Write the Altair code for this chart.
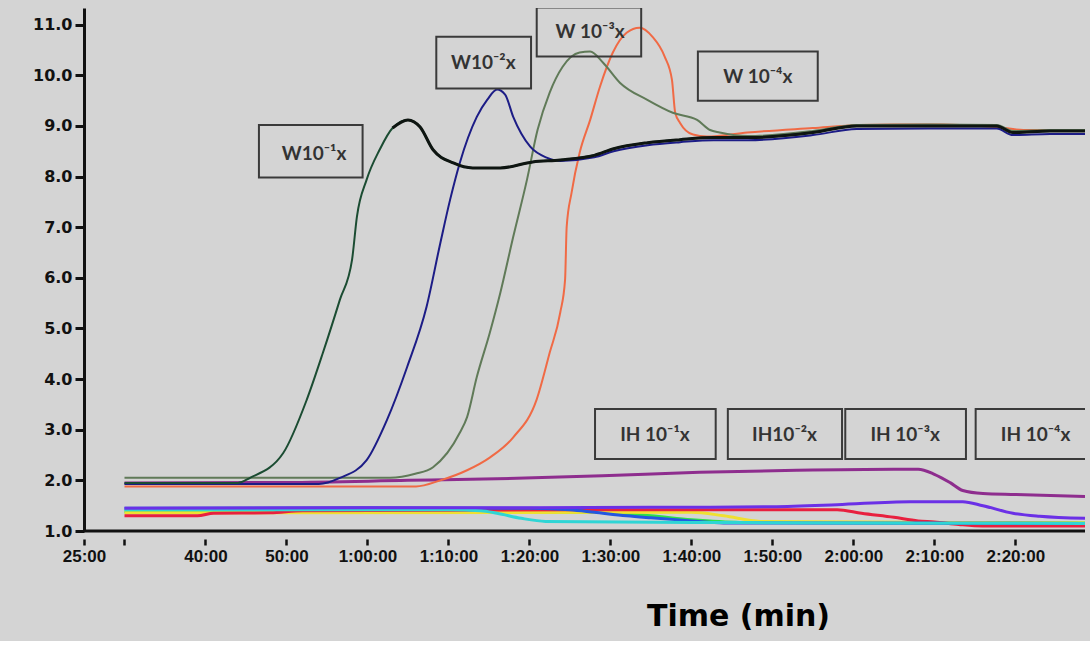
import altair as alt
import pandas as pd

# ---------------- data (time in minutes, signal value) ----------------
w1_t = [30, 44, 45.5, 49.6, 52.5, 54.5, 56.6, 58.1, 58.7, 59.9, 61.5, 63.1, 65.0, 66.5, 68.1, 70.6, 73.0, 76.4,
        80.4, 83.8, 88, 90.4, 94.6, 98.6, 102.7, 107, 115, 120.4, 129.4, 137.7, 139.7, 144.3, 148.6]
w1_v = [1.95, 1.95, 2.05, 2.54, 3.59, 4.52, 5.57, 6.36, 7.21, 7.94, 8.53, 8.96, 9.12, 8.98, 8.53, 8.27, 8.17, 8.17,
        8.29, 8.33, 8.42, 8.55, 8.67, 8.73, 8.77, 8.77, 8.87, 9.0, 9.0, 9.0, 8.87, 8.9, 8.9]

w2_t = [30, 54, 56.6, 59.9, 62.4, 64.9, 67.3, 69.0, 70.2, 71.4, 73.5, 74.8, 76.0, 77.0, 78.0, 80.1, 82.2, 83.8,
        88, 90.4, 94.6, 98.6, 102.7, 107, 115, 120.4, 129.4, 137.7, 139.7, 144.3, 148.6]
w2_v = [1.93, 1.93, 2.05, 2.40, 3.19, 4.24, 5.43, 6.69, 7.54, 8.27, 9.18, 9.52, 9.72, 9.62, 9.18, 8.59, 8.37, 8.31,
        8.38, 8.5, 8.62, 8.68, 8.72, 8.72, 8.82, 8.94, 8.95, 8.95, 8.82, 8.84, 8.84]

w3_t = [30, 62.8, 65.9, 68.1, 71.4, 72.3, 73.5, 75.1, 76.4, 78.0, 79.7, 81.0, 82.5, 84.1, 86.2, 87.5, 89.1, 91.2,
        94.5, 97.7, 100.7, 102.3, 103.5, 107, 115, 120.4, 129.4, 137.7, 139.7, 144.3, 148.6]
w3_v = [2.05, 2.05, 2.13, 2.26, 2.94, 3.25, 4.04, 4.91, 5.70, 6.81, 7.94, 8.92, 9.66, 10.17, 10.45, 10.47, 10.25, 9.85,
        9.52, 9.26, 9.12, 8.92, 8.87, 8.8, 8.9, 9.02, 9.03, 9.02, 8.9, 8.92, 8.92]

w4_t = [30, 66, 69.0, 72.3, 75.1, 78.0, 80.9, 82.5, 83.8, 84.4, 84.6, 85.2, 86.2, 87.5, 88.7, 90.3, 92.0, 93.6,
        95.2, 96.7, 97.6, 98.0, 98.6, 100.2, 101.9, 106.9, 115, 120.8, 125, 131, 137.7, 141, 148.6]
w4_v = [1.88, 1.88, 2.0, 2.2, 2.45, 2.85, 3.6, 4.52, 5.31, 5.96, 7.01, 7.68, 8.47, 9.12, 9.77, 10.45, 10.84, 10.94,
        10.76, 10.37, 9.91, 9.26, 9.06, 8.83, 8.79, 8.87, 8.96, 9.02, 9.03, 9.03, 8.98, 8.92, 8.92]

ih_purple_t = [30, 50, 65, 76, 89, 101, 113, 125, 128, 130, 132, 133.5, 136, 140, 148.6]
ih_purple_v = [1.95, 1.96, 2.0, 2.03, 2.09, 2.16, 2.2, 2.22, 2.22, 2.12, 1.95, 1.8, 1.74, 1.72, 1.68]

ih_violet_t = [30, 60, 80, 95, 100, 110, 118, 127, 133.5, 136, 139.7, 143, 148.6]
ih_violet_v = [1.45, 1.46, 1.46, 1.47, 1.47, 1.48, 1.52, 1.58, 1.58, 1.5, 1.35, 1.29, 1.25]

ih_green_t = [30, 88, 95, 100, 106, 148.6]
ih_green_v = [1.38, 1.37, 1.3, 1.22, 1.17, 1.16]

ih_yellow_t = [30, 100, 104, 108.5, 148.6]
ih_yellow_v = [1.36, 1.37, 1.3, 1.19, 1.16]

ih_red_t = [30, 39, 41, 48, 52, 86, 118, 121, 125, 128, 130, 133, 136, 148.6]
ih_red_v = [1.3, 1.3, 1.35, 1.36, 1.40, 1.42, 1.42, 1.35, 1.27, 1.2, 1.18, 1.13, 1.1, 1.1]

ih_blue_t = [30, 60, 80, 85, 88, 92, 95, 100, 104, 148.6]
ih_blue_v = [1.45, 1.46, 1.45, 1.42, 1.37, 1.3, 1.26, 1.2, 1.16, 1.15]

ih_cyan_t = [30, 70, 74, 76, 79, 82, 100, 120, 148.6]
ih_cyan_v = [1.42, 1.42, 1.40, 1.35, 1.25, 1.19, 1.17, 1.16, 1.15]

# annotation boxes (data units)
box_labels = ["W10⁻¹x", "W10⁻²x", "W 10⁻³x", "W 10⁻⁴x", "IH 10⁻¹x", "IH10⁻²x", "IH 10⁻³x", "IH 10⁻⁴x"]
box_x1 = [46.6, 68.5, 80.9, 100.8, 88.1, 104.5, 119.0, 135.1]
box_x2 = [59.4, 80.2, 93.8, 115.6, 103.0, 118.6, 133.9, 149.2]
box_y1 = [7.98, 9.74, 10.37, 9.50, 2.42, 2.42, 2.42, 2.42]
box_y2 = [9.02, 10.76, 11.34, 10.47, 3.41, 3.41, 3.41, 3.41]
text_x = [53.4, 74.3, 87.5, 108.2, 95.5, 111.5, 126.4, 142.5]
text_y = [8.45, 10.25, 10.86, 9.97, 2.90, 2.90, 2.90, 2.90]

x_ticks = [25, 30, 40, 50, 60, 70, 80, 90, 100, 110, 120, 130, 140]
y_ticks = [1, 2, 3, 4, 5, 6, 7, 8, 9, 10, 11]

# ---------------- tables ----------------
ih_series = [
    ("IH green", ih_green_t, ih_green_v, "#2ee04a"),
    ("IH yellow", ih_yellow_t, ih_yellow_v, "#f0e030"),
    ("IH red", ih_red_t, ih_red_v, "#e8203f"),
    ("IH blue", ih_blue_t, ih_blue_v, "#2456e0"),
    ("IH cyan", ih_cyan_t, ih_cyan_v, "#2fd5d5"),
    ("IH violet", ih_violet_t, ih_violet_v, "#6b30e6"),
    ("IH purple", ih_purple_t, ih_purple_v, "#8e2d8e"),
]
w_series = [
    ("W 10-4", w4_t, w4_v, "#f06a45"),
    ("W 10-3", w3_t, w3_v, "#607a58"),
    ("W 10-2", w2_t, w2_v, "#1c1c86"),
    ("W 10-1", w1_t, w1_v, "#1b4c32"),
]


def build(series):
    rows = []
    for name, ts, vs, _ in series:
        for t, v in zip(ts, vs):
            rows.append({"series": name, "t": t, "v": v})
    return pd.DataFrame(rows)


ih_df = build(ih_series)
w_df = build(w_series)
box_df = pd.DataFrame({"label": box_labels, "x1": box_x1, "x2": box_x2,
                       "y1": box_y1, "y2": box_y2, "tx": text_x, "ty": text_y})

xs = alt.Scale(domain=[25, 148.6], nice=False, zero=False)
ys = alt.Scale(domain=[1, 11.33], nice=False, zero=False)

label_expr = ("datum.value == 30 ? '' : (datum.value < 60 ? datum.value + ':00' : "
              "floor(datum.value / 60) + ':' + (datum.value % 60 < 10 ? '0' : '') + (datum.value % 60) + ':00')")

x_axis = alt.Axis(values=x_ticks, labelExpr=label_expr, domain=False, offset=8, tickSize=6, tickWidth=2.5,
                  tickColor="#111111", labelFont="Liberation Sans", labelFontWeight="bold", labelFontSize=17,
                  labelColor="#111111", labelPadding=3, grid=False, title="Time (min)",
                  titleFont="DejaVu Sans", titleFontWeight="bold", titleFontSize=30, titleColor="#000000",
                  titleX=654, titleY=77, titleBaseline="middle", labelFlush=False)
y_axis = alt.Axis(values=y_ticks, format=".1f", tickSize=9, tickWidth=3, tickColor="#111111",
                  domainColor="#111111", domainWidth=3, labelFont="DejaVu Sans", labelFontWeight="bold",
                  labelFontSize=16, labelColor="#111111", labelPadding=3, grid=False, title=None)


def line_layer(df, series, width):
    return alt.Chart(df).mark_line(strokeWidth=width, interpolate="monotone", clip=True).encode(
        x=alt.X("t:Q", scale=xs, axis=x_axis),
        y=alt.Y("v:Q", scale=ys, axis=y_axis),
        color=alt.Color("series:N", legend=None,
                        scale=alt.Scale(domain=[s[0] for s in series], range=[s[3] for s in series])),
        detail="series:N",
    )


ih_lines = line_layer(ih_df, ih_series, 3)
w_lines = line_layer(w_df, w_series, 2)

# dark, heavier trace of the W 10^-1 curve after its peak (as in the recorder trace)
w1_tail = alt.Chart(w_df).transform_filter(
    (alt.datum.series == "W 10-1") & (alt.datum.t >= 63)
).mark_line(strokeWidth=3, color="#0e1511", interpolate="monotone", clip=True).encode(
    x=alt.X("t:Q", scale=xs, axis=x_axis),
    y=alt.Y("v:Q", scale=ys, axis=y_axis),
)

axis_line = alt.Chart(pd.DataFrame({"a": [0]})).mark_rule(strokeWidth=3, color="#111111").encode(
    y=alt.datum(1, scale=ys, axis=y_axis))

boxes = alt.Chart(box_df).mark_rect(fillOpacity=0, stroke="#3a3a3a", strokeWidth=2, clip=True).encode(
    x=alt.X("x1:Q", scale=xs, axis=x_axis), x2="x2", y=alt.Y("y1:Q", scale=ys, axis=y_axis), y2="y2")

labels = alt.Chart(box_df).mark_text(font="Lato", fontSize=19, fontWeight="bold", color="#333333",
                                     align="center", baseline="middle").encode(
    x=alt.X("tx:Q", scale=xs, axis=x_axis), y=alt.Y("ty:Q", scale=ys, axis=y_axis), text="label:N")

chart = alt.layer(ih_lines, w_lines, w1_tail, axis_line, boxes, labels).resolve_scale(
    color="independent").properties(
    width=1001, height=523, background="#d4d4d4",
    autosize=alt.AutoSizeParams(type="none"),
    padding={"left": 84, "top": 8, "right": 5, "bottom": 110},
).configure_view(strokeWidth=0)

chart.save("out.html", embed_options={"renderer": "svg", "actions": False})
